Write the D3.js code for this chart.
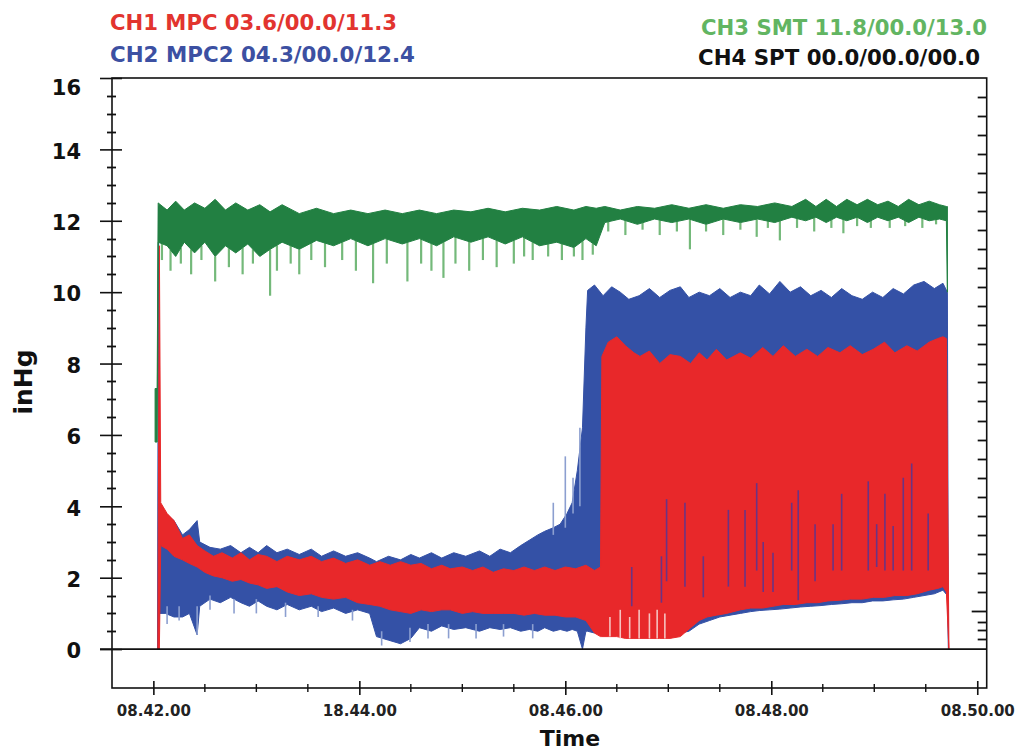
<!DOCTYPE html>
<html>
<head>
<meta charset="utf-8">
<script src="https://cdn.jsdelivr.net/npm/d3@7"></script>
<style>
  body { margin: 0; background: #fff; }
  text { font-family: "DejaVu Sans", sans-serif; font-weight: bold; }
</style>
</head>
<body>
<div id="chart"></div>
<script>
// time in seconds after 08.42.00
var xTicks = [0, 120, 240, 360, 480];
var xLabels = ["08.42.00", "18.44.00", "08.46.00", "08.48.00", "08.50.00"];
var xMinor = [30, 60, 90, 150, 180, 210, 270, 300, 330, 390, 420, 450];
var yTicks = [0, 2, 4, 6, 8, 10, 12, 14, 16];
var yMinor = [0.5, 1, 1.5, 2.5, 3, 3.5, 4.5, 5, 5.5, 6.5, 7, 7.5, 8.5, 9, 9.5, 10.5, 11, 11.5, 12.5, 13, 13.5, 14.5, 15, 15.5];
var rightMajor = [1.06];
var rightMinor = [0.28, 0.53, 0.76, 1.60, 2.13, 2.66, 3.20, 3.73, 4.27, 4.80, 5.33, 5.87, 6.40, 6.94, 7.47, 8.00,
  8.54, 9.07, 9.60, 10.14, 10.67, 11.21, 11.74, 12.27, 12.81, 13.34, 13.88, 14.41, 14.94, 15.48];

var legendLeft = ["CH1 MPC 03.6/00.0/11.3", "CH2 MPC2 04.3/00.0/12.4"];
var legendRight = ["CH3 SMT 11.8/00.0/13.0", "CH4 SPT 00.0/00.0/00.0"];

// CH3 SMT (green) dense band
var ch3Time = [1, 2.2, 2.8, 8, 13, 18, 24, 30, 36, 42, 48, 55, 62, 68, 75, 85, 95, 105, 115, 125, 135, 145, 155, 165, 175,
  185, 195, 205, 215, 225, 235, 245, 252, 258, 263, 272, 282, 292, 302, 312, 322, 332, 342, 352, 362, 372, 380, 386, 392,
  398, 404, 410, 416, 422, 428, 434, 440, 446, 452, 458, 462, 462.6];
var ch3Max = [7.3, 7.3, 12.5, 12.3, 12.55, 12.3, 12.5, 12.35, 12.6, 12.3, 12.5, 12.3, 12.45, 12.25, 12.45, 12.2, 12.35, 12.2,
  12.3, 12.2, 12.3, 12.2, 12.3, 12.2, 12.3, 12.25, 12.35, 12.25, 12.35, 12.3, 12.4, 12.3, 12.4, 12.35, 12.4, 12.3, 12.4,
  12.35, 12.45, 12.35, 12.45, 12.35, 12.45, 12.4, 12.5, 12.4, 12.6, 12.4, 12.6, 12.4, 12.6, 12.45, 12.6, 12.45, 12.55,
  12.4, 12.6, 12.45, 12.55, 12.45, 12.4, 12.4];
var ch3Min = [5.8, 5.8, 11.4, 11.3, 11.0, 11.4, 11.1, 11.4, 11.0, 11.3, 11.1, 11.35, 11.0, 11.2, 11.4, 11.2, 11.45, 11.3,
  11.5, 11.3, 11.5, 11.35, 11.5, 11.3, 11.55, 11.4, 11.55, 11.35, 11.55, 11.3, 11.4, 11.25, 11.5, 11.3, 11.95, 12.05, 11.9,
  12.05, 11.95, 12.05, 11.9, 12.05, 11.95, 12.05, 11.95, 12.1, 12.0, 12.1, 11.95, 12.1, 12.0, 12.1, 11.95, 12.1, 12.0,
  12.1, 11.95, 12.1, 12.0, 12.05, 12.0, 10.0];
// CH3 light downward spikes
var ch3DipTime = [5, 10, 16, 22, 28, 36, 44, 52, 58, 68, 72, 80, 85, 92, 100, 110, 118, 128, 136, 148, 156, 162, 169, 176,
  184, 192, 200, 210, 216, 221, 230, 238, 245, 250, 256, 265, 275, 285, 295, 305, 312.6, 322, 332, 342, 351.5, 358, 365,
  375, 385, 395, 402, 410, 418, 429, 438, 448, 456];
var ch3DipMin = [10.9, 10.6, 10.8, 10.5, 10.9, 10.3, 10.7, 10.5, 10.8, 9.9, 10.6, 10.8, 10.5, 10.9, 10.7, 10.9, 10.6, 10.25,
  10.8, 10.3, 10.8, 10.6, 10.4, 10.8, 10.6, 10.9, 10.7, 10.8, 11.0, 10.9, 11.0, 10.9, 11.0, 10.9, 11.05, 11.7, 11.6, 11.75,
  11.6, 11.7, 11.2, 11.7, 11.6, 11.75, 11.55, 11.8, 11.45, 11.8, 11.7, 11.8, 11.65, 11.85, 11.8, 11.8, 11.85, 11.8, 11.9];

// CH2 MPC2 (blue)
var ch2Time = [2.4, 3.0, 3.6, 7, 12, 17, 21, 25.5, 27, 33, 39, 45, 51, 56, 61, 66, 72, 78, 85, 92, 98, 105, 112, 119, 126,
  130, 137, 144, 150, 155, 162, 168, 175, 182, 190, 196, 202, 208, 214, 219, 224, 228, 233, 237, 241, 244, 247, 250, 252,
  253, 257, 262, 267, 272, 277, 283, 289, 295, 301, 307, 312, 318, 324, 330, 336, 342, 348, 353, 359, 365, 371, 377, 383,
  389, 395, 401, 407, 413, 419, 425, 431, 437, 443, 449, 455, 460, 462.6, 463.2];
var ch2Max = [0, 12.4, 4.0, 3.8, 3.6, 3.2, 3.35, 3.6, 3.0, 2.85, 2.8, 2.9, 2.7, 2.85, 2.7, 2.9, 2.7, 2.8, 2.65, 2.8, 2.6,
  2.75, 2.6, 2.7, 2.55, 2.45, 2.6, 2.5, 2.65, 2.55, 2.7, 2.55, 2.7, 2.6, 2.75, 2.6, 2.8, 2.7, 2.9, 3.05, 3.2, 3.3, 3.4, 3.5,
  3.8, 4.1, 5.0, 6.2, 9.0, 10.05, 10.2, 9.9, 10.15, 10.0, 9.8, 9.9, 10.1, 9.85, 10.05, 10.15, 9.85, 10.0, 9.9, 10.1, 9.85,
  10.0, 9.9, 10.2, 9.95, 10.3, 10.0, 10.15, 9.9, 10.05, 9.85, 10.1, 9.9, 9.8, 10.0, 9.85, 10.1, 9.95, 10.2, 10.3, 10.1,
  10.25, 10.0, 0];
var ch2Min = [0, 0, 1.0, 1.0, 0.9, 0.9, 1.0, 0.4, 1.2, 1.4, 1.3, 1.45, 1.3, 1.2, 1.35, 1.2, 1.1, 1.25, 1.1, 1.2, 1.05, 1.15,
  1.0, 1.1, 1.0, 0.35, 0.25, 0.15, 0.3, 0.6, 0.5, 0.65, 0.55, 0.6, 0.5, 0.6, 0.55, 0.6, 0.5, 0.55, 0.5, 0.6, 0.5, 0.55,
  0.5, 0.55, 0.5, 0.0, 0.5, 0.5, 0.45, 0.45, 0.45, 0.45, 0.45, 0.45, 0.45, 0.45, 0.45, 0.45, 0.5, 0.7, 0.8, 0.9, 0.95, 1.0,
  1.05, 1.08, 1.1, 1.12, 1.15, 1.18, 1.2, 1.22, 1.25, 1.27, 1.3, 1.3, 1.35, 1.35, 1.38, 1.4, 1.45, 1.5, 1.55, 1.65, 1.5, 0];
// CH2 light excursions above / below its band [time, low, high]
var ch2SpikeTime = [8, 15, 25.5, 33, 47, 60, 77, 96, 116, 133, 149.5, 160, 172, 188, 204, 221, 233, 240, 244.5, 248.5];
var ch2SpikeLow = [0.7, 0.8, 0.4, 1.1, 1.0, 1.0, 0.9, 0.9, 0.8, 0.1, 0.2, 0.3, 0.3, 0.3, 0.35, 0.3, 3.2, 3.4, 3.8, 4.0];
var ch2SpikeHigh = [1.2, 1.2, 1.2, 1.5, 1.4, 1.4, 1.3, 1.2, 1.1, 0.5, 0.6, 0.7, 0.7, 0.7, 0.7, 0.7, 4.1, 5.4, 4.8, 6.2];
// CH2 low excursions showing through the CH1 band [time, low, high]
var ch2DipTime = [278.7, 296, 299, 309.7, 320.4, 335, 344.7, 351.5, 355.3, 361, 371.9, 375.7, 385.5, 396, 401, 416.5,
  421.4, 426.2, 431, 436.9, 441.8, 451.4];
var ch2DipLow = [1.2, 1.3, 1.9, 1.75, 1.45, 1.75, 1.75, 2.2, 1.6, 1.6, 2.2, 1.37, 1.9, 2.2, 2.2, 2.2, 2.3, 2.2, 2.2, 2.2, 2.2, 2.2];
var ch2DipHigh = [2.3, 2.6, 4.2, 4.1, 2.6, 3.9, 3.9, 4.65, 3.0, 2.7, 4.1, 4.45, 3.5, 3.5, 4.35, 4.7, 3.5, 4.35, 3.45, 4.8, 5.2, 3.8];

// CH1 MPC (red)
var ch1Time = [2.6, 3.5, 4.3, 8, 12, 17, 21, 25.5, 30, 35, 40, 46, 51, 56, 61, 66, 72, 78, 85, 92, 98, 105, 112, 119, 126,
  132, 138, 144, 150, 156, 162, 168, 173, 180, 186, 192, 198, 204, 210, 216, 222, 228, 234, 240, 246, 252, 257, 260.5,
  261.3, 265, 270, 275, 280, 283.5, 289, 295, 301, 307, 313, 318, 322.6, 328, 334, 342, 348, 355, 361, 367, 374, 380.7,
  387, 393, 400, 406, 413, 419.4, 426, 432, 439, 445, 452, 457, 460, 462, 463.5];
var ch1Max = [0, 11.3, 4.1, 3.8, 3.6, 3.1, 3.2, 2.9, 2.75, 2.6, 2.7, 2.55, 2.7, 2.5, 2.65, 2.6, 2.45, 2.6, 2.5, 2.6, 2.45,
  2.55, 2.4, 2.5, 2.35, 2.45, 2.35, 2.45, 2.35, 2.4, 2.25, 2.35, 2.25, 2.3, 2.2, 2.3, 2.15, 2.25, 2.2, 2.3, 2.2, 2.3, 2.2,
  2.3, 2.25, 2.35, 2.2, 2.3, 8.2, 8.6, 8.75, 8.5, 8.3, 8.2, 8.35, 8.0, 8.25, 8.2, 8.0, 8.3, 8.1, 8.4, 8.1, 8.3, 8.15, 8.45,
  8.2, 8.5, 8.2, 8.4, 8.2, 8.45, 8.3, 8.5, 8.25, 8.4, 8.6, 8.3, 8.5, 8.35, 8.6, 8.7, 8.75, 8.7, 0];
var ch1Min = [0, 0, 2.9, 2.8, 2.6, 2.5, 2.4, 2.3, 2.15, 2.05, 2.0, 1.9, 1.95, 1.85, 1.8, 1.7, 1.75, 1.6, 1.5, 1.55, 1.45, 1.4,
  1.45, 1.3, 1.25, 1.2, 1.1, 1.05, 1.0, 1.1, 1.05, 1.1, 1.1, 1.0, 1.05, 1.0, 1.0, 1.0, 1.0, 0.95, 1.0, 0.95, 0.95, 0.9, 0.9,
  0.8, 0.45, 0.35, 0.35, 0.35, 0.35, 0.3, 0.3, 0.3, 0.3, 0.3, 0.3, 0.35, 0.6, 0.8, 0.9, 0.95, 1.0, 1.1, 1.15, 1.15, 1.2,
  1.25, 1.25, 1.3, 1.3, 1.35, 1.37, 1.4, 1.4, 1.45, 1.45, 1.5, 1.5, 1.55, 1.65, 1.7, 1.75, 1.6, 0];
// pale gaps at the foot of the CH1 band [time, low, high]
var ch1GapTime = [266, 272, 277.5, 283, 289, 293.5, 298];
var ch1GapLow = [0.35, 0.3, 0.3, 0.3, 0.3, 0.3, 0.3];
var ch1GapHigh = [0.9, 1.1, 0.9, 1.1, 1.0, 1.1, 1.0];

var width = 1019, height = 752;
var plotLeft = 112, plotRight = 986.7, plotTop = 78, plotBottom = 688;

var svg = d3.select("#chart").append("svg")
  .attr("width", width)
  .attr("height", height);

var x = d3.scaleLinear().domain([-24.1, 485.5]).range([plotLeft, plotRight]);
var y = d3.scaleLinear().domain([-1.09, 16]).range([plotBottom, plotTop]);

function band(times, lo, hi) {
  return times.map(function (t, i) { return { t: t, lo: lo[i], hi: hi[i] }; });
}

var area = d3.area()
  .x(function (d) { return x(d.t); })
  .y0(function (d) { return y(d.lo); })
  .y1(function (d) { return y(d.hi); });

var plot = svg.append("g");

// vertical strokes from low to high at each time
function strokes(cls, times, lo, hi, color, w) {
  plot.selectAll("." + cls)
    .data(band(times, lo, hi))
    .join("line")
    .attr("class", cls)
    .attr("x1", function (d) { return x(d.t); })
    .attr("x2", function (d) { return x(d.t); })
    .attr("y1", function (d) { return y(d.lo); })
    .attr("y2", function (d) { return y(d.hi); })
    .attr("stroke", color)
    .attr("stroke-width", w);
}

// blue first, red on top of it
plot.append("path")
  .datum(band(ch2Time, ch2Min, ch2Max))
  .attr("d", area)
  .attr("fill", "#3451a6")
  .attr("stroke", "#3451a6")
  .attr("stroke-width", 1);
strokes("ch2spike", ch2SpikeTime, ch2SpikeLow, ch2SpikeHigh, "#8c9fd0", 1.6);

plot.append("path")
  .datum(band(ch1Time, ch1Min, ch1Max))
  .attr("d", area)
  .attr("fill", "#e8282a")
  .attr("stroke", "#e8282a")
  .attr("stroke-width", 1);
strokes("ch1gap", ch1GapTime, ch1GapLow, ch1GapHigh, "#f6c2c0", 1.6);
strokes("ch2dip", ch2DipTime, ch2DipLow, ch2DipHigh, "#6b3384", 1.6);

// green: light spikes under the dense band
var ch3MinAt = d3.scaleLinear().domain(ch3Time.slice(2, -1)).range(ch3Min.slice(2, -1)).clamp(true);
strokes("ch3dip", ch3DipTime, ch3DipMin, ch3DipTime.map(function (t) { return ch3MinAt(t); }), "#74b97a", 2.2);

plot.append("path")
  .datum(band(ch3Time, ch3Min, ch3Max))
  .attr("d", area)
  .attr("fill", "#228042")
  .attr("stroke", "#228042")
  .attr("stroke-width", 1);

// frame and zero line
svg.append("rect")
  .attr("x", plotLeft).attr("y", plotTop)
  .attr("width", plotRight - plotLeft).attr("height", plotBottom - plotTop)
  .attr("fill", "none").attr("stroke", "#111").attr("stroke-width", 1.6);

svg.append("line")
  .attr("x1", plotLeft - 12).attr("x2", plotRight)
  .attr("y1", y(0)).attr("y2", y(0))
  .attr("stroke", "#111").attr("stroke-width", 1.6);

// minor ticks (left crossing the axis, right pointing inward)
var tickLayer = svg.append("g");
function hTicks(cls, values, x1, x2, w) {
  tickLayer.selectAll("." + cls)
    .data(values)
    .join("line")
    .attr("class", cls)
    .attr("x1", x1).attr("x2", x2)
    .attr("y1", function (d) { return Math.round(y(d)) + 0.5; })
    .attr("y2", function (d) { return Math.round(y(d)) + 0.5; })
    .attr("stroke", "#111")
    .attr("stroke-width", w);
}
hTicks("yminor", yMinor, plotLeft - 5, plotLeft + 4, 1.8);
hTicks("rminor", rightMinor, plotRight - 9, plotRight, 1.8);
hTicks("rmajor", rightMajor, plotRight - 15, plotRight, 1.8);

// left axis: major ticks cross the axis line
var yAxis = svg.append("g")
  .attr("transform", "translate(" + plotLeft + ",0)")
  .call(d3.axisLeft(y).tickValues(yTicks).tickSize(12).tickSizeOuter(0).tickPadding(19));
yAxis.select(".domain").remove();
yAxis.selectAll(".tick line").attr("x1", 10).attr("stroke", "#111").attr("stroke-width", 1.6);
yAxis.selectAll(".tick text")
  .attr("font-size", 21)
  .attr("font-family", "DejaVu Sans")
  .attr("fill", "#111")
  .attr("dy", function (d) { return d === 16 ? "0.8em" : "0.42em"; });

// bottom axis
var xAxis = svg.append("g")
  .attr("transform", "translate(0," + plotBottom + ")")
  .call(d3.axisBottom(x).tickValues(xTicks).tickSize(7).tickSizeOuter(0)
    .tickFormat(function (d, i) { return xLabels[i]; }));
xAxis.select(".domain").remove();
xAxis.selectAll(".tick line").attr("y1", -7).attr("stroke", "#111").attr("stroke-width", 1.6);
xAxis.selectAll(".tick text")
  .attr("y", 28).attr("dy", null)
  .attr("font-size", 15)
  .attr("font-family", "DejaVu Sans")
  .attr("fill", "#222");

tickLayer.selectAll(".xminor")
  .data(xMinor)
  .join("line")
  .attr("class", "xminor")
  .attr("x1", function (d) { return x(d); })
  .attr("x2", function (d) { return x(d); })
  .attr("y1", plotBottom - 4).attr("y2", plotBottom + 4)
  .attr("stroke", "#111").attr("stroke-width", 1.4);

// axis titles
svg.append("text")
  .attr("x", 570).attr("y", 746)
  .attr("text-anchor", "middle")
  .attr("font-size", 22)
  .attr("fill", "#111")
  .text("Time");

svg.append("text")
  .attr("transform", "translate(32,382) rotate(-90)")
  .attr("text-anchor", "middle")
  .attr("font-size", 25)
  .attr("fill", "#111")
  .text("inHg");

// channel legends
var leftColors = ["#e2342f", "#3c50a2"];
var leftY = [30, 62];
var leftLen = [287, 305];
svg.selectAll(".legL")
  .data(legendLeft)
  .join("text")
  .attr("class", "legL")
  .attr("x", 110)
  .attr("y", function (d, i) { return leftY[i]; })
  .attr("font-size", 21)
  .attr("fill", function (d, i) { return leftColors[i]; })
  .attr("textLength", function (d, i) { return leftLen[i]; })
  .attr("lengthAdjust", "spacingAndGlyphs")
  .text(function (d) { return d; });

var rightColors = ["#62b562", "#111"];
var rightY = [35, 65];
var rightX = [987, 980];
var rightLen = [286, 282];
svg.selectAll(".legR")
  .data(legendRight)
  .join("text")
  .attr("class", "legR")
  .attr("x", function (d, i) { return rightX[i] - rightLen[i]; })
  .attr("y", function (d, i) { return rightY[i]; })
  .attr("font-size", 21)
  .attr("fill", function (d, i) { return rightColors[i]; })
  .attr("textLength", function (d, i) { return rightLen[i]; })
  .attr("lengthAdjust", "spacingAndGlyphs")
  .text(function (d) { return d; });
</script>
</body>
</html>
